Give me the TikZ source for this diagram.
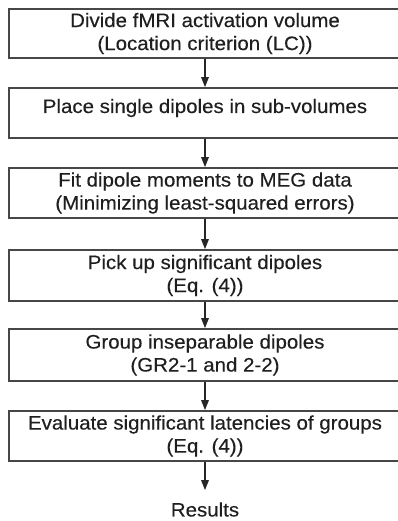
\documentclass[tikz,border=0pt]{standalone}
\usepackage{fontspec}
\setmainfont[FakeStretch=1.05,FakeBold=0.3]{Liberation Sans}
\usetikzlibrary{arrows.meta}
\begin{document}
\begin{tikzpicture}[x=1pt,y=-1pt,
  box/.style={draw=black!72,line width=1.7pt,minimum width=392pt,inner sep=0pt,
    align=center,font=\fontsize{19.5}{23}\selectfont,text=black!88},
  arr/.style={draw=black!85,line width=1.4pt,-{Triangle[length=10pt,width=7.5pt]}},
  lbl/.style={inner sep=0pt,font=\fontsize{19.5}{23}\selectfont,text=black!88}]
\useasboundingbox (0,0) rectangle (398,521);
\node[box,minimum height=49pt] (b1) at (205,33.5) {Divide fMRI activation volume\\(Location criterion (LC))};
\node[box,text height=25pt,text depth=25pt] (b2) at (205,113) {Place single dipoles in sub-volumes};
\node[box,minimum height=50pt] (b3) at (205,193) {Fit dipole moments to MEG data\\(Minimizing least-squared errors)};
\node[box,minimum height=51pt] (b4) at (205,275.5) {Pick up significant dipoles\\(Eq. (4))};
\node[box,minimum height=52pt] (b5) at (205,355) {Group inseparable dipoles\\(GR2-1 and 2-2)};
\node[box,minimum height=50pt] (b6) at (205,436) {Evaluate significant latencies of groups\\(Eq. (4))};
\node[lbl] (res) at (205,509.5) {Results};
\draw[arr] (b1) -- (b2);
\draw[arr] (b2) -- (b3);
\draw[arr] (b3) -- (b4);
\draw[arr] (b4) -- (b5);
\draw[arr] (b5) -- (b6);
\draw[arr,shorten >=12pt] (b6) -- (res);
\end{tikzpicture}
\end{document}
